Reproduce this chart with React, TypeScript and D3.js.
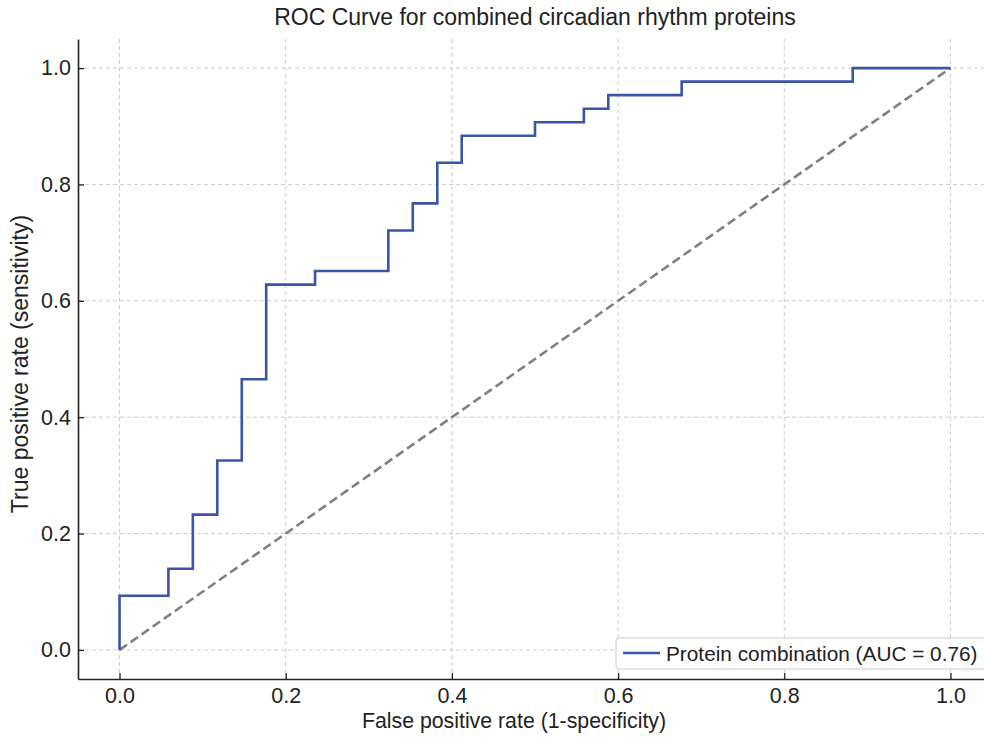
import { useEffect, useRef } from "react";
import * as d3 from "d3";

// ROC points (false positive rate / true positive rate)
const fpr = [
  0, 0, 0.0588, 0.0588, 0.0882, 0.0882, 0.1176, 0.1176, 0.1471, 0.1471,
  0.1765, 0.1765, 0.2353, 0.2353, 0.3235, 0.3235, 0.3529, 0.3529, 0.3824,
  0.3824, 0.4118, 0.4118, 0.5, 0.5, 0.5588, 0.5588, 0.5882, 0.5882, 0.6765,
  0.6765, 0.8824, 0.8824, 1,
];
const tpr = [
  0, 0.093, 0.093, 0.1395, 0.1395, 0.2326, 0.2326, 0.3256, 0.3256, 0.4651,
  0.4651, 0.6279, 0.6279, 0.6512, 0.6512, 0.7209, 0.7209, 0.7674, 0.7674,
  0.8372, 0.8372, 0.8837, 0.8837, 0.907, 0.907, 0.9302, 0.9302, 0.9535,
  0.9535, 0.9767, 0.9767, 1, 1,
];
const chanceLine = [0, 1];
const tickValues = [0, 0.2, 0.4, 0.6, 0.8, 1.0];
const aucLabel = "Protein combination (AUC = 0.76)";

const FONT = "'Liberation Sans', Arial, Helvetica, sans-serif";

const RocChart = () => {
  const svgRef = useRef<SVGSVGElement>(null);

  useEffect(() => {
    const W = 984;
    const H = 737;
    const margin = { top: 39, right: -8, bottom: 58, left: 78 };
    const width = W - margin.left - margin.right;
    const height = H - margin.top - margin.bottom;

    d3.select(svgRef.current).selectAll("*").remove();

    const root = d3
      .select(svgRef.current)
      .attr("width", W)
      .attr("height", H)
      .style("font-family", FONT);

    const svg = root
      .append("g")
      .attr("transform", `translate(${margin.left},${margin.top})`);

    const x = d3.scaleLinear().domain([-0.05, 1.05]).range([0, width]);
    const y = d3.scaleLinear().domain([-0.05, 1.05]).range([height, 0]);

    // Grid
    const grid = svg.append("g");
    grid
      .selectAll("line.vx")
      .data(tickValues)
      .enter()
      .append("line")
      .attr("x1", (d) => x(d))
      .attr("x2", (d) => x(d))
      .attr("y1", 0)
      .attr("y2", height)
      .attr("stroke", "#cccccc")
      .attr("stroke-width", 1)
      .attr("stroke-dasharray", "4,3");
    grid
      .selectAll("line.hy")
      .data(tickValues)
      .enter()
      .append("line")
      .attr("x1", 0)
      .attr("x2", width)
      .attr("y1", (d) => y(d))
      .attr("y2", (d) => y(d))
      .attr("stroke", "#cccccc")
      .attr("stroke-width", 1)
      .attr("stroke-dasharray", "4,3");

    // Chance line
    svg
      .append("path")
      .datum(chanceLine)
      .attr("fill", "none")
      .attr("stroke", "#808080")
      .attr("stroke-width", 2.6)
      .attr("stroke-dasharray", "9,4.5")
      .attr(
        "d",
        d3
          .line<number>()
          .x((d) => x(d))
          .y((d) => y(d))
      );

    // ROC curve
    const pts = fpr.map((f, i) => [f, tpr[i]] as [number, number]);
    svg
      .append("path")
      .datum(pts)
      .attr("fill", "none")
      .attr("stroke", "#3b55a6")
      .attr("stroke-width", 2.6)
      .attr(
        "d",
        d3
          .line<[number, number]>()
          .x((d) => x(d[0]))
          .y((d) => y(d[1]))
      );

    // Axes
    const xAxis = svg
      .append("g")
      .attr("transform", `translate(0,${height})`)
      .call(
        d3
          .axisBottom(x)
          .tickValues(tickValues)
          .tickFormat(d3.format(".1f"))
          .tickSizeInner(-6)
          .tickSizeOuter(0)
          .tickPadding(9)
      );
    const yAxis = svg.append("g").call(
      d3
        .axisLeft(y)
        .tickValues(tickValues)
        .tickFormat(d3.format(".1f"))
        .tickSizeInner(-6)
        .tickSizeOuter(0)
        .tickPadding(7)
    );
    [xAxis, yAxis].forEach((a) => {
      a.select(".domain").attr("stroke", "#222").attr("stroke-width", 1.6);
      a.selectAll(".tick line").attr("stroke", "#222").attr("stroke-width", 1.3);
      a.selectAll(".tick text")
        .attr("fill", "#222")
        .style("font-size", "21.5px")
        .style("font-family", FONT);
    });

    // Title and labels
    root
      .append("text")
      .attr("x", 535)
      .attr("y", 25)
      .attr("text-anchor", "middle")
      .attr("fill", "#222")
      .style("font-size", "23px")
      .text("ROC Curve for combined circadian rhythm proteins");

    root
      .append("text")
      .attr("x", 514)
      .attr("y", 728)
      .attr("text-anchor", "middle")
      .attr("fill", "#222")
      .style("font-size", "21.3px")
      .text("False positive rate (1-specificity)");

    root
      .append("text")
      .attr("transform", "translate(28,364) rotate(-90)")
      .attr("text-anchor", "middle")
      .attr("fill", "#222")
      .style("font-size", "23px")
      .text("True positive rate (sensitivity)");

    // Legend
    const lg = root.append("g").attr("transform", "translate(616,638)");
    lg.append("rect")
      .attr("width", 380)
      .attr("height", 31)
      .attr("rx", 3)
      .attr("fill", "white")
      .attr("fill-opacity", 0.85)
      .attr("stroke", "#cccccc")
      .attr("stroke-width", 1);
    lg.append("line")
      .attr("x1", 7)
      .attr("x2", 44)
      .attr("y1", 15)
      .attr("y2", 15)
      .attr("stroke", "#3b55a6")
      .attr("stroke-width", 2.6);
    lg.append("text")
      .attr("x", 50)
      .attr("y", 23)
      .attr("fill", "#222")
      .style("font-size", "20.8px")
      .text(aucLabel);
  }, []);

  return <svg ref={svgRef} style={{ display: "block" }}></svg>;
};

const App = () => {
  return (
    <div style={{ position: "fixed", left: 0, top: 0, background: "white" }}>
      <RocChart />
    </div>
  );
};

export default App;
